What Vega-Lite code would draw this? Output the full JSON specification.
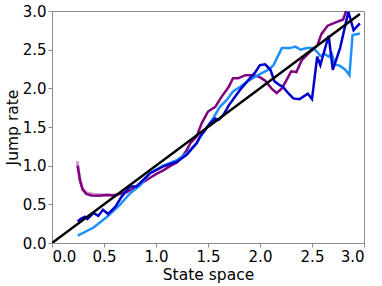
{
  "$schema": "https://vega.github.io/schema/vega-lite/v6.json",
  "width": 312,
  "height": 232,
  "autosize": "none",
  "padding": {"left": 52, "top": 11, "right": 18, "bottom": 43},
  "background": "white",
  "config": {
    "view": {"stroke": "#8c8c8c", "strokeWidth": 1},
    "axis": {
      "grid": false,
      "domainColor": "#8c8c8c",
      "tickColor": "#8c8c8c",
      "tickSize": 4,
      "labelFont": "DejaVu Sans",
      "labelFontSize": 15,
      "labelColor": "black",
      "titleFont": "DejaVu Sans",
      "titleFontSize": 15.5,
      "titleFontWeight": "normal",
      "titleColor": "black",
      "labelPadding": 2
    }
  },
  "data": {
    "values": [
      {"s": "L", "x": 0.245, "y": 1.06},
      {"s": "L", "x": 0.25, "y": 0.97},
      {"s": "L", "x": 0.27, "y": 0.82},
      {"s": "L", "x": 0.295, "y": 0.7},
      {"s": "L", "x": 0.33, "y": 0.65},
      {"s": "L", "x": 0.4, "y": 0.63},
      {"s": "L", "x": 0.5, "y": 0.625},
      {"s": "L", "x": 0.6, "y": 0.62},
      {"s": "L", "x": 0.7, "y": 0.65},

      {"s": "P", "x": 0.247, "y": 1.0},
      {"s": "P", "x": 0.27, "y": 0.8},
      {"s": "P", "x": 0.295, "y": 0.69},
      {"s": "P", "x": 0.33, "y": 0.635},
      {"s": "P", "x": 0.38, "y": 0.615},
      {"s": "P", "x": 0.45, "y": 0.61},
      {"s": "P", "x": 0.53, "y": 0.62},
      {"s": "P", "x": 0.6, "y": 0.615},
      {"s": "P", "x": 0.65, "y": 0.635},
      {"s": "P", "x": 0.72, "y": 0.66},
      {"s": "P", "x": 0.81, "y": 0.73},
      {"s": "P", "x": 0.88, "y": 0.79},
      {"s": "P", "x": 0.94, "y": 0.84},
      {"s": "P", "x": 1.0, "y": 0.89},
      {"s": "P", "x": 1.07, "y": 0.94},
      {"s": "P", "x": 1.13, "y": 0.99},
      {"s": "P", "x": 1.2, "y": 1.04},
      {"s": "P", "x": 1.25, "y": 1.11},
      {"s": "P", "x": 1.295, "y": 1.2},
      {"s": "P", "x": 1.33, "y": 1.29},
      {"s": "P", "x": 1.39, "y": 1.375},
      {"s": "P", "x": 1.44, "y": 1.55},
      {"s": "P", "x": 1.5, "y": 1.7},
      {"s": "P", "x": 1.57, "y": 1.76},
      {"s": "P", "x": 1.63, "y": 1.89},
      {"s": "P", "x": 1.7, "y": 2.02},
      {"s": "P", "x": 1.74, "y": 2.13},
      {"s": "P", "x": 1.79, "y": 2.13},
      {"s": "P", "x": 1.86, "y": 2.17},
      {"s": "P", "x": 1.94, "y": 2.17},
      {"s": "P", "x": 1.99, "y": 2.15},
      {"s": "P", "x": 2.05, "y": 2.1},
      {"s": "P", "x": 2.11, "y": 2.0},
      {"s": "P", "x": 2.16, "y": 1.94},
      {"s": "P", "x": 2.21, "y": 2.0},
      {"s": "P", "x": 2.26, "y": 2.12},
      {"s": "P", "x": 2.3, "y": 2.22},
      {"s": "P", "x": 2.35, "y": 2.21},
      {"s": "P", "x": 2.4, "y": 2.36},
      {"s": "P", "x": 2.48, "y": 2.47},
      {"s": "P", "x": 2.55, "y": 2.55},
      {"s": "P", "x": 2.59, "y": 2.7},
      {"s": "P", "x": 2.65, "y": 2.81},
      {"s": "P", "x": 2.74, "y": 2.86},
      {"s": "P", "x": 2.8, "y": 2.89},
      {"s": "P", "x": 2.83, "y": 3.01},
      {"s": "P", "x": 2.85, "y": 3.1},

      {"s": "C", "x": 0.247, "y": 0.095},
      {"s": "C", "x": 0.4, "y": 0.2},
      {"s": "C", "x": 0.53, "y": 0.34},
      {"s": "C", "x": 0.65, "y": 0.49},
      {"s": "C", "x": 0.75, "y": 0.64},
      {"s": "C", "x": 0.85, "y": 0.75},
      {"s": "C", "x": 0.94, "y": 0.9},
      {"s": "C", "x": 1.07, "y": 1.0},
      {"s": "C", "x": 1.2, "y": 1.07},
      {"s": "C", "x": 1.295, "y": 1.16},
      {"s": "C", "x": 1.39, "y": 1.29},
      {"s": "C", "x": 1.45, "y": 1.42},
      {"s": "C", "x": 1.52, "y": 1.55},
      {"s": "C", "x": 1.57, "y": 1.66},
      {"s": "C", "x": 1.615, "y": 1.76},
      {"s": "C", "x": 1.68, "y": 1.85},
      {"s": "C", "x": 1.74, "y": 1.96},
      {"s": "C", "x": 1.81, "y": 2.02},
      {"s": "C", "x": 1.89, "y": 2.1},
      {"s": "C", "x": 1.98, "y": 2.17},
      {"s": "C", "x": 2.08, "y": 2.24},
      {"s": "C", "x": 2.13, "y": 2.3},
      {"s": "C", "x": 2.21, "y": 2.52},
      {"s": "C", "x": 2.29, "y": 2.52},
      {"s": "C", "x": 2.34, "y": 2.54},
      {"s": "C", "x": 2.39, "y": 2.5},
      {"s": "C", "x": 2.45, "y": 2.52},
      {"s": "C", "x": 2.51, "y": 2.52},
      {"s": "C", "x": 2.55, "y": 2.47},
      {"s": "C", "x": 2.58, "y": 2.42},
      {"s": "C", "x": 2.625, "y": 2.44},
      {"s": "C", "x": 2.66, "y": 2.41},
      {"s": "C", "x": 2.69, "y": 2.45},
      {"s": "C", "x": 2.72, "y": 2.31},
      {"s": "C", "x": 2.77, "y": 2.29},
      {"s": "C", "x": 2.82, "y": 2.24},
      {"s": "C", "x": 2.86, "y": 2.17},
      {"s": "C", "x": 2.89, "y": 2.69},
      {"s": "C", "x": 2.96, "y": 2.71},

      {"s": "B", "x": 0.247, "y": 0.28},
      {"s": "B", "x": 0.285, "y": 0.32},
      {"s": "B", "x": 0.317, "y": 0.34},
      {"s": "B", "x": 0.34, "y": 0.31},
      {"s": "B", "x": 0.365, "y": 0.34},
      {"s": "B", "x": 0.4, "y": 0.39},
      {"s": "B", "x": 0.445, "y": 0.35},
      {"s": "B", "x": 0.49, "y": 0.43},
      {"s": "B", "x": 0.54, "y": 0.375},
      {"s": "B", "x": 0.61, "y": 0.47},
      {"s": "B", "x": 0.67, "y": 0.6},
      {"s": "B", "x": 0.75, "y": 0.73},
      {"s": "B", "x": 0.81, "y": 0.73},
      {"s": "B", "x": 0.88, "y": 0.82},
      {"s": "B", "x": 0.94, "y": 0.9},
      {"s": "B", "x": 1.07, "y": 0.99},
      {"s": "B", "x": 1.2, "y": 1.05},
      {"s": "B", "x": 1.295, "y": 1.14},
      {"s": "B", "x": 1.39, "y": 1.29},
      {"s": "B", "x": 1.42, "y": 1.37},
      {"s": "B", "x": 1.46, "y": 1.44},
      {"s": "B", "x": 1.52, "y": 1.55},
      {"s": "B", "x": 1.57, "y": 1.61},
      {"s": "B", "x": 1.6, "y": 1.59},
      {"s": "B", "x": 1.65, "y": 1.66},
      {"s": "B", "x": 1.7, "y": 1.78},
      {"s": "B", "x": 1.76, "y": 1.89},
      {"s": "B", "x": 1.82, "y": 2.0},
      {"s": "B", "x": 1.89, "y": 2.11},
      {"s": "B", "x": 1.95, "y": 2.2},
      {"s": "B", "x": 2.0, "y": 2.3},
      {"s": "B", "x": 2.05, "y": 2.31},
      {"s": "B", "x": 2.1, "y": 2.24},
      {"s": "B", "x": 2.14, "y": 2.09},
      {"s": "B", "x": 2.19, "y": 2.04},
      {"s": "B", "x": 2.22, "y": 2.02},
      {"s": "B", "x": 2.27, "y": 1.94},
      {"s": "B", "x": 2.32, "y": 1.87},
      {"s": "B", "x": 2.38, "y": 1.86},
      {"s": "B", "x": 2.46, "y": 1.93},
      {"s": "B", "x": 2.5, "y": 1.86},
      {"s": "B", "x": 2.55, "y": 2.41},
      {"s": "B", "x": 2.58, "y": 2.3},
      {"s": "B", "x": 2.66, "y": 2.68},
      {"s": "B", "x": 2.7, "y": 2.24},
      {"s": "B", "x": 2.77, "y": 2.52},
      {"s": "B", "x": 2.85, "y": 2.99},
      {"s": "B", "x": 2.9, "y": 2.75},
      {"s": "B", "x": 2.96, "y": 2.84},

      {"s": "K", "x": 0.0, "y": 0.0},
      {"s": "K", "x": 2.96, "y": 2.96}
    ]
  },
  "encoding": {
    "x": {
      "field": "x", "type": "quantitative",
      "scale": {"domain": [0, 3], "nice": false, "zero": false},
      "axis": {"values": [0, 0.5, 1, 1.5, 2, 2.5, 3], "format": ".1f", "title": "State space", "titlePadding": 3}
    },
    "y": {
      "field": "y", "type": "quantitative",
      "scale": {"domain": [0, 3], "nice": false, "zero": false},
      "axis": {"values": [0, 0.5, 1, 1.5, 2, 2.5, 3], "format": ".1f", "title": "Jump rate", "titlePadding": 2}
    },
    "order": {"field": "x", "type": "quantitative"}
  },
  "layer": [
    {"transform": [{"filter": "datum.s == 'L'"}], "mark": {"type": "line", "clip": true, "color": "#d69bd6", "strokeWidth": 3}},
    {"transform": [{"filter": "datum.s == 'P'"}], "mark": {"type": "line", "clip": true, "color": "#800080", "strokeWidth": 2.5}},
    {"transform": [{"filter": "datum.s == 'C'"}], "mark": {"type": "line", "clip": true, "color": "#1e90ff", "strokeWidth": 2.5}},
    {"transform": [{"filter": "datum.s == 'B'"}], "mark": {"type": "line", "clip": true, "color": "#0000cd", "strokeWidth": 2.5}},
    {"transform": [{"filter": "datum.s == 'K'"}], "mark": {"type": "line", "clip": true, "color": "black", "strokeWidth": 2.5}}
  ]
}
